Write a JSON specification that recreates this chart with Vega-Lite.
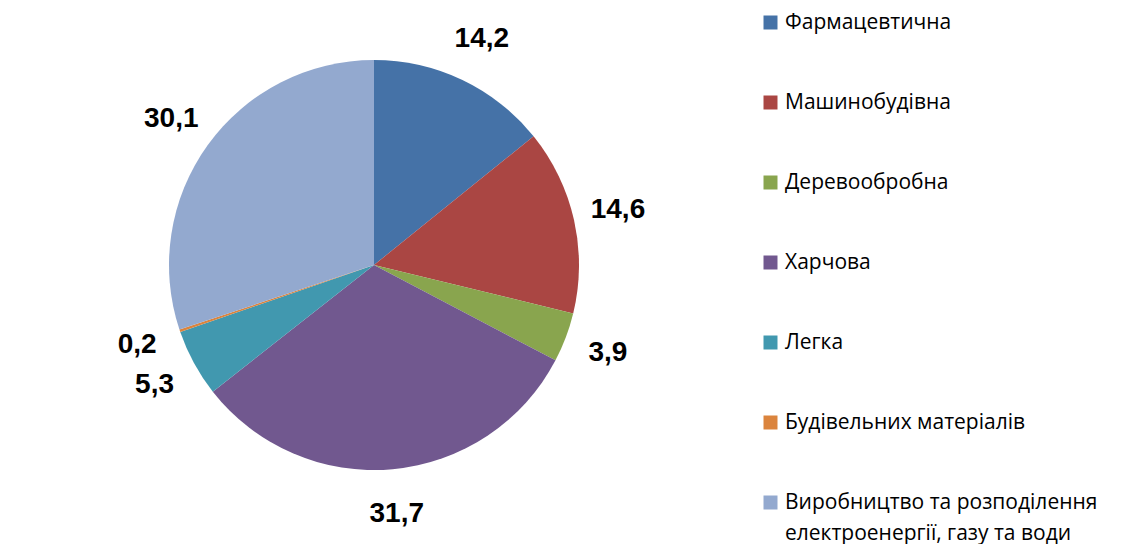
{
  "$schema": "https://vega.github.io/schema/vega-lite/v6.json",
  "width": 748,
  "height": 530,
  "padding": 0,
  "background": "white",
  "view": {"stroke": null},
  "data": {
    "values": [
      {"idx": 1, "sector": "Фармацевтична", "value": 14.2, "label": "14,2"},
      {"idx": 2, "sector": "Машинобудівна", "value": 14.6, "label": "14,6"},
      {"idx": 3, "sector": "Деревообробна", "value": 3.9, "label": "3,9"},
      {"idx": 4, "sector": "Харчова", "value": 31.7, "label": "31,7"},
      {"idx": 5, "sector": "Легка", "value": 5.3, "label": "5,3"},
      {"idx": 6, "sector": "Будівельних матеріалів", "value": 0.2, "label": "0,2"},
      {"idx": 7, "sector": "Виробництво та розподілення електроенергії, газу та води", "value": 30.1, "label": "30,1"}
    ]
  },
  "encoding": {
    "theta": {"field": "value", "type": "quantitative", "stack": true},
    "order": {"field": "idx", "type": "quantitative"},
    "color": {
      "field": "sector",
      "type": "nominal",
      "scale": {
        "domain": ["Фармацевтична", "Машинобудівна", "Деревообробна", "Харчова", "Легка", "Будівельних матеріалів", "Виробництво та розподілення електроенергії, газу та води"],
        "range": ["#4572A7", "#AA4643", "#89A54E", "#71588F", "#4198AF", "#DB843D", "#93A9CF"]
      },
      "legend": {
        "orient": "none",
        "legendX": 760,
        "legendY": 12,
        "title": null,
        "symbolType": "square",
        "symbolSize": 196,
        "symbolStrokeWidth": 0,
        "labelFont": "Open Sans",
        "labelFontSize": 21,
        "labelColor": "black",
        "labelOffset": 4,
        "labelLimit": 400,
        "rowPadding": 58,
        "labelExpr": "datum.label == 'Виробництво та розподілення електроенергії, газу та води' ? ['Виробництво та розподілення', 'електроенергії, газу та води'] : datum.label",
        "encode": {"labels": {"update": {"lineHeight": {"value": 31}}}}
      }
    }
  },
  "layer": [
    {"mark": {"type": "arc", "outerRadius": 205}},
    {
      "mark": {"type": "text", "radius": 250, "font": "Liberation Sans", "fontWeight": "bold", "fontSize": 28},
      "encoding": {
        "text": {"field": "label", "type": "nominal"},
        "color": {"value": "black"}
      }
    }
  ]
}
